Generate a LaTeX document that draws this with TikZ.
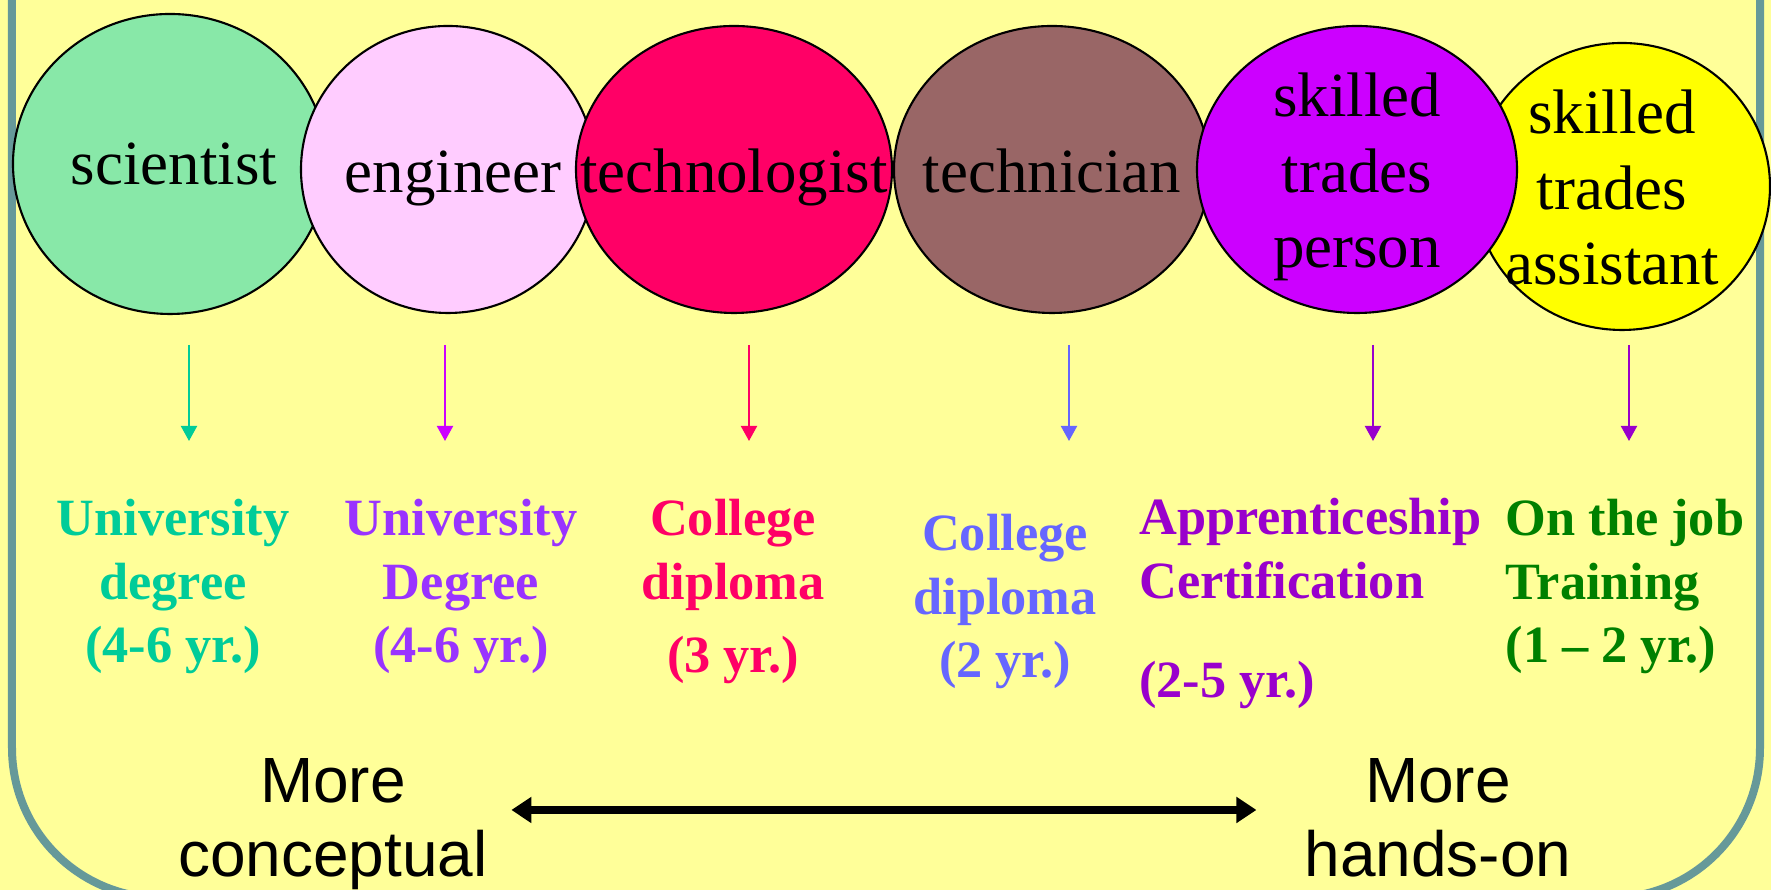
\documentclass[tikz,border=0pt]{standalone}
\usepackage{fontspec}
\setmainfont{Liberation Serif}
\setsansfont{Liberation Sans}
\usepackage{tikz}
\usetikzlibrary{shapes.geometric}
\usetikzlibrary{arrows.meta}
\definecolor{bgYellow}{HTML}{FFFF99}
\definecolor{frameTeal}{HTML}{669999}
\definecolor{sciGreen}{HTML}{88E8A8}
\definecolor{engPink}{HTML}{FFCCFF}
\definecolor{techRed}{HTML}{FF0066}
\definecolor{tecBrown}{HTML}{996666}
\definecolor{skillViolet}{HTML}{CC00FF}
\definecolor{assistYellow}{HTML}{FFFF00}
\definecolor{txtGreen}{HTML}{00CC99}
\definecolor{txtPurple}{HTML}{9933FF}
\definecolor{txtBlue}{HTML}{6666FF}
\definecolor{txtPlum}{HTML}{9900CC}
\definecolor{txtDarkGreen}{HTML}{008000}

\begin{document}
\begin{tikzpicture}[
	job/.style={ellipse, draw=black, line width=0.6pt, inner sep=0pt},
	jobname/.style={anchor=base, align=center, inner sep=0pt, font=\fontsize{17.9}{21.6}\selectfont},
	route/.style={anchor=base, align=center, inner sep=0pt, font=\bfseries\fontsize{14.9}{18.2}\selectfont},
	endnote/.style={anchor=base, align=center, inner sep=0pt, font=\sffamily\fontsize{18.2}{21.3}\selectfont},
	pointer/.style={line width=0.57pt, -{Triangle[width=0.16cm,length=0.15cm]}}]
			\useasboundingbox (0,0) rectangle (17.71,8.90);
			\clip (0,0) rectangle (17.71,8.90);
			\fill[bgYellow] (0,0) rectangle (17.71,8.90);
			\draw[frameTeal, line width=0.08cm, rounded corners=1.5cm] (0.12,-0.08) rectangle (17.60,11);
			% the six jobs
			\node[job, fill=sciGreen, minimum width=3.14cm, minimum height=3.00cm] (sci) at (1.70,7.26) {};
			\node[job, fill=engPink, minimum width=2.94cm, minimum height=2.87cm] (eng) at (4.48,7.205) {};
			\node[job, fill=techRed, minimum width=3.16cm, minimum height=2.87cm] (tlg) at (7.34,7.205) {};
			\node[job, fill=tecBrown, minimum width=3.16cm, minimum height=2.87cm] (tcn) at (10.52,7.205) {};
			\node[job, fill=assistYellow, minimum width=2.96cm, minimum height=2.87cm] (sta) at (16.22,7.035) {};
			\node[job, fill=skillViolet, minimum width=3.20cm, minimum height=2.87cm] (stp) at (13.57,7.205) {};
			\node[jobname] (sci-t) at ([xshift=0.04cm,yshift=-0.21cm]sci.center) {scientist};
			\node[jobname] (eng-t) at ([xshift=0.05cm,yshift=-0.235cm]eng.center) {engineer};
			\node[jobname] (tlg-t) at ([yshift=-0.235cm]tlg.center) {technologist};
			\node[jobname] (tcn-t) at ([yshift=-0.235cm]tcn.center) {technician};
			\node[jobname] (stp-t) at ([yshift=-0.985cm]stp.center) {skilled\\trades\\person};
			\node[jobname] (sta-t) at ([xshift=-0.10cm,yshift=-0.985cm]sta.center) {skilled\\trades\\assistant};
			% the training under each job
			\node[route, txtGreen] (udeg) at (1.73,2.27) {University\\degree\\(4-6 yr.)};
			\node[route, txtPurple] (udeg2) at (4.61,2.27) {University\\Degree\\(4-6 yr.)};
			\node[route, techRed] (cdip) at (7.33,2.17) {College\\diploma\\[0.1cm](3 yr.)};
			\node[route, txtBlue] (cdip2) at (10.05,2.12) {College\\diploma\\(2 yr.)};
			\node[route, anchor=base west, align=left, txtPlum] (appr) at (11.385,1.92) {Apprenticeship\\Certification\\[0.36cm](2-5 yr.)};
			\node[route, anchor=base west, align=left, txtDarkGreen] (ojt) at (15.05,2.27) {On the job\\Training\\(1 -- 2 yr.)};
			\coordinate (sciA) at (1.89,5.45);
			\coordinate (sciB) at (1.89,4.49);
			\coordinate (engA) at (4.45,5.45);
			\coordinate (engB) at (4.45,4.49);
			\coordinate (tlgA) at (7.49,5.45);
			\coordinate (tlgB) at (7.49,4.49);
			\coordinate (tcnA) at (10.69,5.45);
			\coordinate (tcnB) at (10.69,4.49);
			\coordinate (stpA) at (13.73,5.45);
			\coordinate (stpB) at (13.73,4.49);
			\coordinate (staA) at (16.29,5.45);
			\coordinate (staB) at (16.29,4.49);
			\draw[pointer, txtGreen] (sciA) -- (sciB);
			\draw[pointer, skillViolet] (engA) -- (engB);
			\draw[pointer, techRed] (tlgA) -- (tlgB);
			\draw[pointer, txtBlue] (tcnA) -- (tcnB);
			\draw[pointer, txtPlum] (stpA) -- (stpB);
			\draw[pointer, txtPlum] (staA) -- (staB);
			% the scale at the bottom
			\node[endnote] (concept) at (3.33,0.13) {More\\conceptual};
			\node[endnote] (handson) at (14.38,0.13) {More\\hands-on};
			\draw[line width=0.085cm, {Triangle[width=0.25cm,length=0.2cm]}-{Triangle[width=0.25cm,length=0.2cm]}, shorten <=0.23cm, shorten >=0.475cm] ([yshift=0.67cm]concept.base east) -- ([yshift=0.67cm]handson.base west);
		\end{tikzpicture}
\end{document}
